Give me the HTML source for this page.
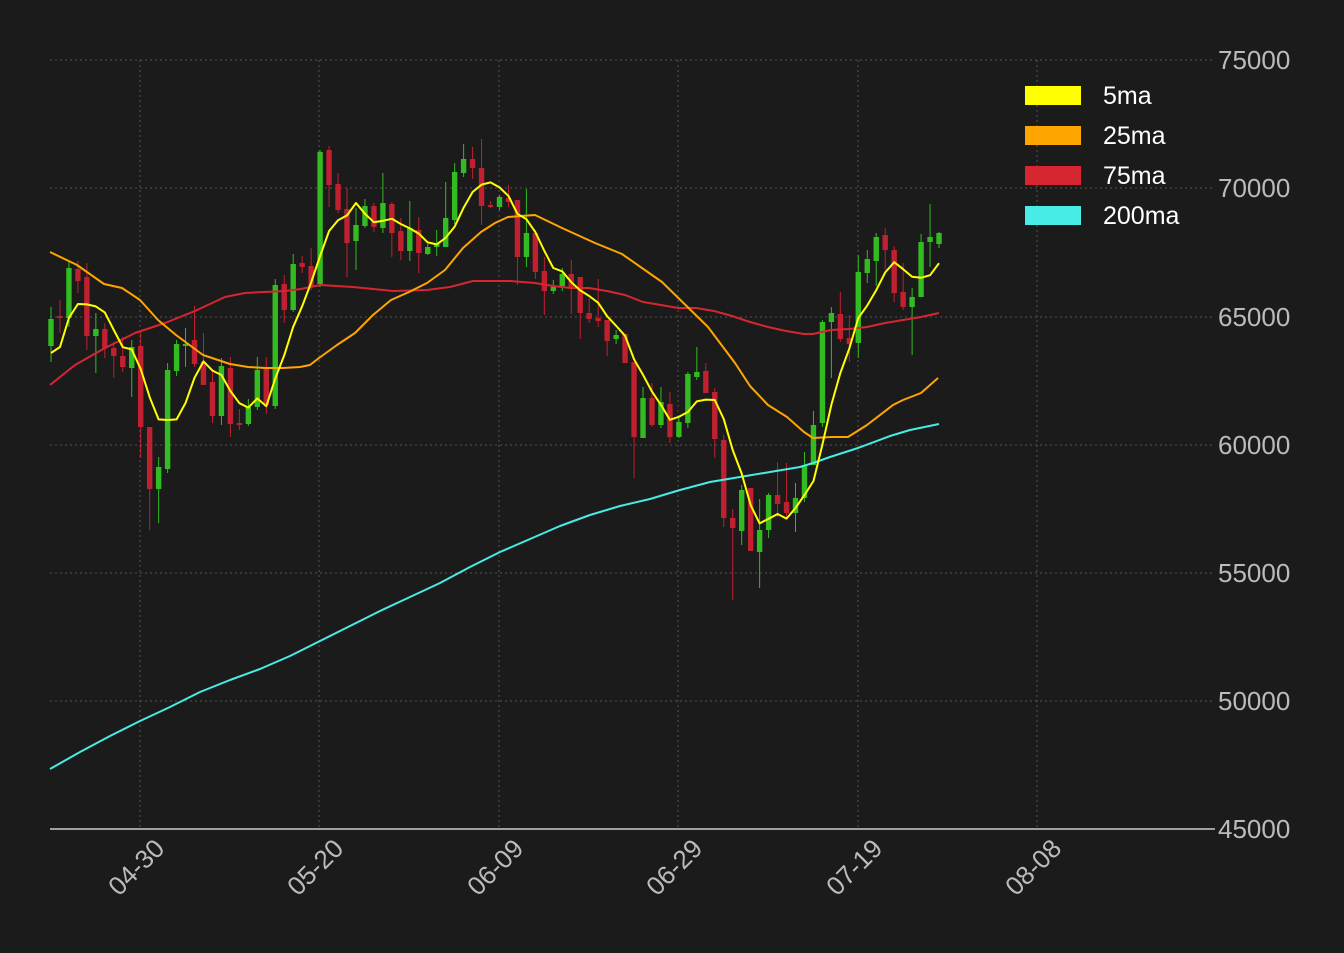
<!DOCTYPE html>
<html><head><meta charset="utf-8"><style>
html,body{margin:0;padding:0;background:#1b1b1b;}
svg{display:block;}
text{font-family:"Liberation Sans",sans-serif;}
</style></head><body>
<svg id="s" width="1344" height="953" xmlns="http://www.w3.org/2000/svg">
<rect width="1344" height="953" fill="#1b1b1b"/>
<g id="grid" stroke="#555" stroke-width="1" stroke-dasharray="2,3"></g>
<g id="cand"></g>
<g id="lines" fill="none" stroke-width="2" stroke-linejoin="round"></g>
<line x1="50" y1="829" x2="1215" y2="829" stroke="#ccc" stroke-width="1.5"/>
<g id="lab" fill="#bbb" font-size="26"></g>
<g font-size="25" fill="#fff">
<rect x="1025" y="86" width="56" height="19" fill="#ffff00"/><text x="1103" y="104">5ma</text>
<rect x="1025" y="126" width="56" height="19" fill="#ffa500"/><text x="1103" y="144">25ma</text>
<rect x="1025" y="166" width="56" height="19" fill="#d62630"/><text x="1103" y="184">75ma</text>
<rect x="1025" y="206" width="56" height="19" fill="#48ece6"/><text x="1103" y="224">200ma</text>
</g>
</svg>
<script>
var NS="http://www.w3.org/2000/svg";
function el(p,t,a,txt){var e=document.createElementNS(NS,t);for(var k in a)e.setAttribute(k,a[k]);if(txt)e.textContent=txt;document.getElementById(p).appendChild(e);return e;}
var ys=[60,188,317,445,573,701],vals=[75000,70000,65000,60000,55000,50000,45000];
ys.forEach(function(y){el("grid","line",{x1:50,y1:y,x2:1215,y2:y});});
[60,188,317,445,573,701,829].forEach(function(y,i){el("lab","text",{x:1218,y:y+9},String(vals[i]));});
var xs=[140,319,499,678,858,1037],ds=["04-30","05-20","06-09","06-29","07-19","08-08"];
xs.forEach(function(x,i){el("grid","line",{x1:x,y1:60,x2:x,y2:829});
 el("lab","text",{x:x+26,y:850,"text-anchor":"end",transform:"rotate(-45 "+(x+26)+" 850)"},ds[i]);});
var C=[
"g 319 346 307 362","d 316 318 300 333","g 268 318 262 327","r 269 281 261 293","r 277 336 263 350","g 329 336 313 373","r 329 348 323 358","r 348 356 342 378","r 356 367 337 372","g 347 368 340 397",
"r 346 427 330 458","r 427 489 427 530","g 467 489 457 523","g 370 469 363 473","g 344 371 340 376","g 344 346 328 367","r 340 364 306 367","r 362 385 333 385","r 382 416 371 423","g 366 416 358 425",
"r 368 424 357 437","r 423 425 409 430","g 407 424 399 426","g 370 407 357 410","r 367 405 357 414","g 285 406 279 409","r 284 310 275 323","g 264 310 254 312","r 263 267 256 273","r 266 287 248 290",
"g 152 284 150 287","r 150 185 146 207","r 184 210 173 213","r 209 243 188 277","g 225 241 208 270","g 206 226 199 228","r 206 227 203 232","g 203 228 173 233","r 204 233 202 257","r 231 251 218 260",
"g 228 251 201 261","r 230 253 217 273","g 247 254 244 255","g 243 247 230 256","g 218 247 182 247","g 172 220 163 224","g 159 173 144 177","r 159 168 147 179","r 168 206 139 225","r 205 207 201 208",
"g 197 207 195 210","r 198 202 185 207","r 200 257 200 285","g 233 257 189 267","r 233 272 230 279","r 271 291 257 315","g 287 291 280 294","g 274 286 268 291","r 274 287 260 314","r 277 313 277 339",
"r 313 319 298 323","r 318 321 279 327","r 320 341 320 356","g 335 339 330 344","r 334 363 334 363","r 362 437 362 478","g 398 438 387 438","r 398 425 383 427","g 402 425 387 428","r 404 437 392 443",
"g 422 437 418 438","g 374 423 372 428","g 372 377 347 380","r 371 393 363 393","r 392 439 388 458","r 440 518 435 527","r 518 528 509 600","g 490 531 485 545","r 488 551 488 551","g 530 552 499 588",
"g 495 530 493 538","r 495 504 462 517","r 502 513 463 518","g 498 513 483 532","g 465 498 452 502","g 425 465 411 465","g 322 423 320 427","g 313 322 307 378","r 314 339 292 342","r 338 344 315 362",
"g 272 343 255 358","g 259 273 250 283","g 237 261 233 286","r 235 250 228 270","r 250 293 246 302","r 292 307 263 310","g 297 307 288 355","g 242 297 234 297","g 237 242 204 267","g 233 244 232 248"];
var closes=[];
C.forEach(function(s,i){var p=s.split(" "),c=p[0],t=+p[1],b=+p[2],wt=+p[3],wb=+p[4];
 var x=51+8.97*i,col=c=="g"?"#33bb22":"#c02030";
 closes.push(c=="g"?t:b);
 el("cand","line",{x1:x,y1:wt,x2:x,y2:wb,stroke:col,"stroke-width":1});
 el("cand","rect",{x:x-2.7,y:t,width:5.4,height:Math.max(1.5,b-t),fill:col});});
var y5=[];
for(var i=0;i<100;i++){var v;
 if(i<4)v=[353,347,318,304][i];else{v=0;for(var j=i-4;j<=i;j++)v+=closes[j];v/=5;}
 y5.push((51+8.97*i).toFixed(1)+","+v.toFixed(1));}
function pl(pts,col){el("lines","polyline",{points:pts,stroke:col});}
pl("50,769 80,752 110,736 140,721 170,707 200,692 230,680 260,669 290,656 320,641 350,626 380,611 410,597 440,583 470,567 500,552 530,539 560,526 590,515 620,506 650,499 680,490 710,482 740,477 770,472 800,467 813,463 830,457 858,448 890,436 910,430 939,424","#48ece6");
pl("50,385 75,365 105,348 135,333 165,323 195,311 225,297 245,293 285,291 301,289 320,285 353,287 393,291 427,290 450,287 473,281 510,281 535,283 553,286 571,288 589,288 607,291 625,295 643,302 661,305 678,308 696,308 714,311 732,316 750,322 768,327 786,331 804,334 813,334 822,332 831,330 849,329 867,327 885,323 903,320 921,317 939,313","#d62630");
pl("50,252 77,265 104,284 122,288 140,300 158,320 176,335 203,355 230,364 248,367 266,368 283,368 300,367 310,365 319,358 337,345 355,333 373,315 391,300 409,292 427,283 445,270 463,248 481,232 495,223 508,217 535,215 562,228 595,243 622,254 662,282 708,327 735,363 750,386 768,405 787,417 804,432 813,438 831,437 848,437 867,425 893,405 903,400 921,393 938,378","#ffa500");
pl(y5.join(" "),"#ffff00");
</script>
</body></html>
